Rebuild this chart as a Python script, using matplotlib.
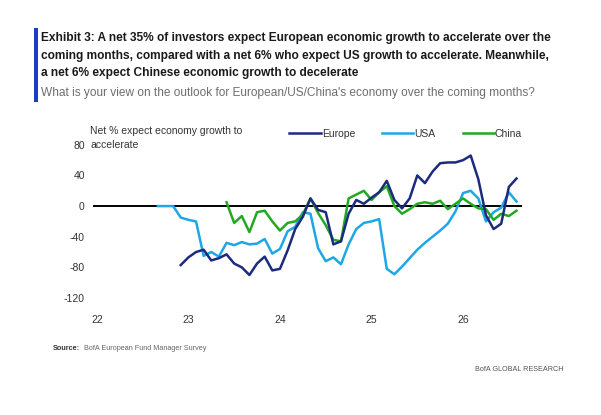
import numpy as np
import matplotlib
matplotlib.use("Agg")
import matplotlib.pyplot as plt

plt.rcParams['font.family'] = ['Liberation Sans Narrow', 'Liberation Sans', 'DejaVu Sans']
plt.rcParams['axes.unicode_minus'] = False

# monthly survey readings, month index 0 = Jan 2022
europe_start = 11
europe = [-77, -67, -60, -57, -71, -68, -63, -75, -80, -90, -75, -66, -84, -82,
          -58, -30, -14, 10, -5, -8, -50, -46, -10, 8, 3, 11, 18, 33, 8, -3,
          10, 40, 30, 45, 56, 57, 57, 60, 66, 35, -12, -30, -23, 25, 36]

usa_start = 8
usa = [0, 0, 0, -15, -18, -20, -65, -60, -66, -48, -51, -47, -50, -49, -43, -62,
       -56, -33, -27, -8, -10, -55, -72, -67, -76, -50, -30, -22, -20, -17, -82,
       -89, -79, -68, -57, -48, -40, -32, -23, -7, 17, 20, 10, -20, -8, -2, 18, 6]

china_start = 17
china = [5, -22, -13, -34, -8, -6, -20, -32, -22, -20, -11, 10, -9, -25, -44,
         -46, 10, 15, 20, 8, 18, 26, 0, -10, -4, 3, 5, 3, 7, -4, 3, 10, 3, -3,
         -4, -18, -10, -13, -6]

year_ticks = [22, 23, 24, 25, 26]
y_ticks = [80, 40, 0, -40, -80, -120]


def months(start, vals):
    return 22 + (start + np.arange(len(vals))) / 12.0


fig = plt.figure(figsize=(6.01, 4.15), dpi=100)
ax = fig.add_axes([0.155, 0.282, 0.713, 0.369])

ax.axhline(0, color='black', lw=1.4, zorder=1)
ax.plot(months(europe_start, europe), europe, color='#1c2b7f', lw=1.8, label='Europe', zorder=3)
ax.plot(months(usa_start, usa), usa, color='#1ea7e4', lw=1.8, label='USA', zorder=2)
ax.plot(months(china_start, china), china, color='#22a922', lw=1.8, label='China', zorder=2)

ax.set_xlim(21.96, 26.64)
ax.set_ylim(-120, 80)
ax.set_xticks(year_ticks)
ax.set_xticklabels([str(t) for t in year_ticks])
ax.set_yticks(y_ticks)
ax.tick_params(length=0, labelsize=7.5, labelcolor='#333333', pad=6)
ax.tick_params(axis='x', pad=12)
for s in ax.spines.values():
    s.set_visible(False)

ax.legend(ncol=3, frameon=False, loc='center', bbox_to_anchor=(0.675, 0.677),
          bbox_transform=fig.transFigure, fontsize=7.5, handlelength=3.0,
          handletextpad=0.1, columnspacing=2.6, labelcolor='#333333')

fig.text(0.15, 0.667, 'Net % expect economy growth to\naccelerate', fontsize=7.5,
         color='#333333', va='center', linespacing=1.5)

# header
fig.add_artist(plt.Rectangle((0.056, 0.755), 0.007, 0.178, transform=fig.transFigure,
                             color='#1a3fc4', lw=0))
fig.text(0.068, 0.923, 'Exhibit 3: A net 35% of investors expect European economic growth to accelerate over the\n'
         'coming months, compared with a net 6% who expect US growth to accelerate. Meanwhile,\n'
         'a net 6% expect Chinese economic growth to decelerate',
         fontsize=8.6, fontweight='bold', color='#1a1a1a', va='top', linespacing=1.62)
fig.text(0.068, 0.762, "What is your view on the outlook for European/US/China's economy over the coming months?",
         fontsize=8.6, color='#6e6e6e', va='bottom')

fig.text(0.088, 0.16, 'Source:', fontsize=5.2, fontweight='bold', color='#333333', va='center')
fig.text(0.139, 0.16, 'BofA European Fund Manager Survey', fontsize=5.2, color='#666666', va='center')
fig.text(0.937, 0.11, 'BofA GLOBAL RESEARCH', fontsize=5.2, color='#555555', va='center', ha='right')

fig.savefig('out.png', dpi=100)
